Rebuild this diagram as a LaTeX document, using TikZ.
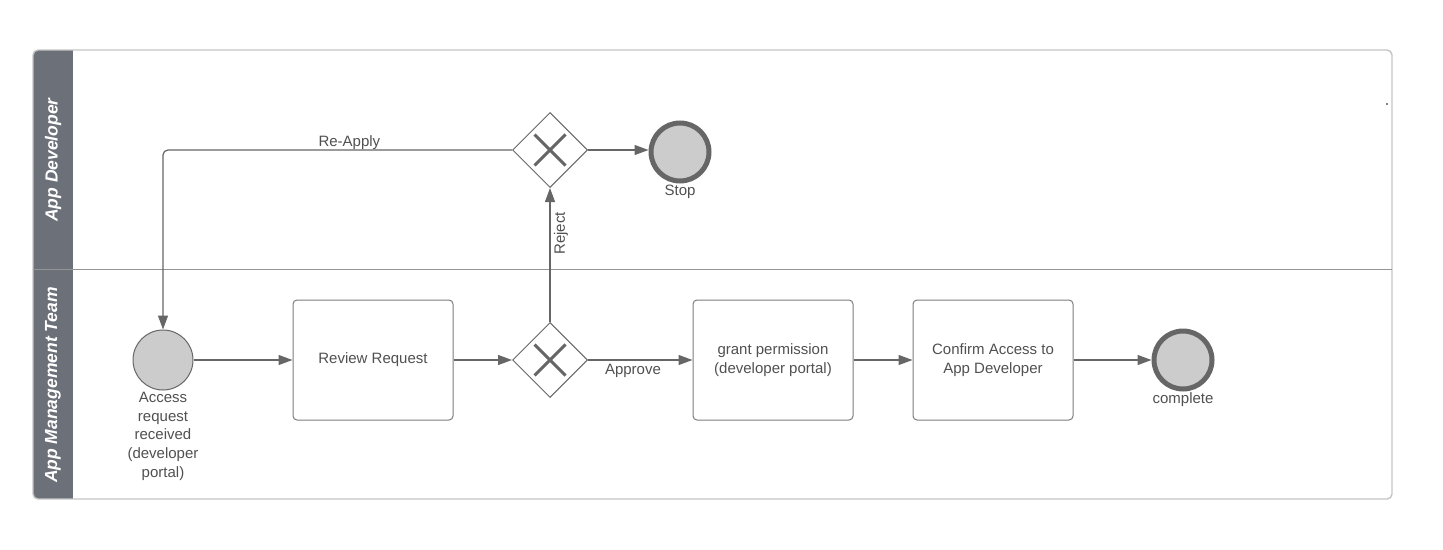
\documentclass[tikz,border=0pt]{standalone}
\usepackage{fontspec}
\setmainfont{Liberation Sans}
\usetikzlibrary{arrows.meta, positioning, shapes.geometric}
\definecolor{lanegray}{HTML}{6B7079}
\definecolor{linegray}{HTML}{666666}
\definecolor{textgray}{HTML}{505050}
\definecolor{framegray}{HTML}{C4C4C4}
\definecolor{eventfill}{HTML}{CCCCCC}

\begin{document}
\begin{tikzpicture}[x=1pt, y=-1pt, font=\fontsize{15}{18.7}\selectfont, text=textgray,
    task/.style={draw=linegray!85, rectangle, rounded corners=4pt, minimum width=160pt, minimum height=120pt, align=center, line width=1pt},
    gate/.style={draw=linegray, diamond, minimum size=75pt, inner sep=0pt, line width=1pt},
    startev/.style={draw=linegray, circle, fill=eventfill, minimum size=60pt, inner sep=0pt, line width=1pt},
    endev/.style={draw=linegray, circle, fill=eventfill, minimum size=58pt, inner sep=0pt, line width=5pt},
    flow/.style={draw=linegray, line width=1.2pt, -{Triangle[length=14pt, width=10pt]}},
    lanelabel/.style={text=white, rotate=90, font=\fontsize{17.5}{21}\selectfont\bfseries\itshape}]
    \useasboundingbox (0,0) rectangle (1443,549);

    % 泳道
    \begin{scope}
        \clip[rounded corners=5pt] (33,50) rectangle (1392,499);
        \fill[lanegray] (33,50) rectangle (73,499);
    \end{scope}
    \draw[framegray, line width=1.4pt, rounded corners=5pt] (33,50) rectangle (1392,499);
    \draw[linegray!70, line width=1pt] (33,269) -- (1392,269);
    \node[lanelabel] (devlane) at (53,160) {App Developer};
    \node[lanelabel] (teamlane) at (53,385) {App Management Team};
    \fill[black] (1387,104) circle (0.9pt);

    % 事件与任务
    \node[startev] (start) at (163,360) {};
    \node[below=-2pt of start, align=center] (startlbl) {Access\\request\\received\\(developer\\portal)};
    \node[task] (review) at (373,360) {\strut Review Request};
    \node[gate] (g1) at (550,360) {};
    \node[gate] (g2) at (550,150) {};
    \node[endev] (stop) at (680,152) {};
    \node[below=-2pt of stop] (stoplbl) {Stop};
    \node[task] (grant) at (773,360) {grant permission\\(developer portal)};
    \node[task] (confirm) at (993,360) {Confirm Access to\\App Developer};
    \node[endev] (done) at (1183,360) {};
    \node[below=-2pt of done] (donelbl) {complete};

    % 网关符号
    \foreach \g in {g1, g2} {
        \draw[linegray, line width=3pt] ([shift={(-15.5,-15.5)}]\g.center) -- ([shift={(15.5,15.5)}]\g.center);
        \draw[linegray, line width=3pt] ([shift={(-15.5,15.5)}]\g.center) -- ([shift={(15.5,-15.5)}]\g.center);
    }

    % 顺序流
    \draw[flow] (start) -- (review);
    \draw[flow] (review) -- (g1);
    \draw[flow] (g1) -- node[below, pos=0.43] (approvelbl) {Approve} (grant);
    \draw[flow] (grant) -- (confirm);
    \draw[flow] (confirm) -- (done);
    \draw[flow] (g1) -- node[rotate=90, anchor=north, pos=0.66] (rejectlbl) {Reject} (g2);
    \draw[flow] (g2.east) -- (stop.west |- g2.east);
    \draw[flow, rounded corners=5pt] (g2.west) -| node[above=-4pt, pos=0.233] (reapplylbl) {Re-Apply} (start.north);
\end{tikzpicture}
\end{document}
